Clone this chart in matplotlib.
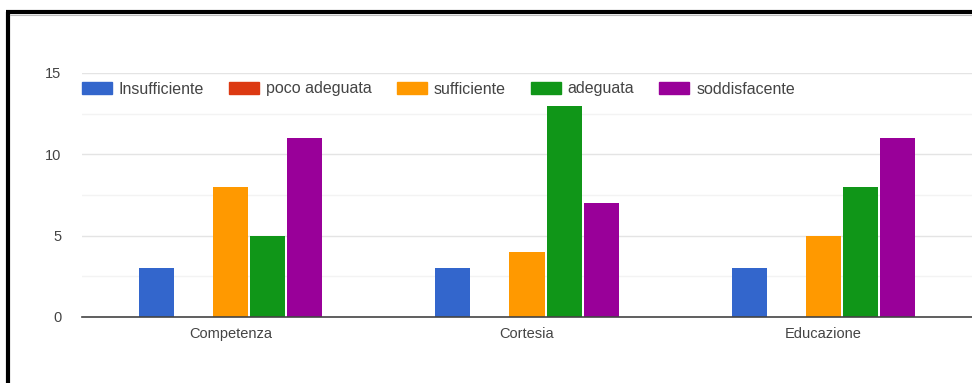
import matplotlib
matplotlib.use("Agg")
import matplotlib.pyplot as plt
import matplotlib.patches as mpatches
from matplotlib.lines import Line2D
import numpy as np

categories = ["Competenza", "Cortesia", "Educazione"]
series_names = ["Insufficiente", "poco adeguata", "sufficiente", "adeguata", "soddisfacente"]
insufficiente = [3, 3, 3]
poco_adeguata = [0, 0, 0]
sufficiente = [8, 4, 5]
adeguata = [5, 13, 8]
soddisfacente = [11, 7, 11]
y_ticks = [0, 5, 10, 15]

series_values = [insufficiente, poco_adeguata, sufficiente, adeguata, soddisfacente]
colors = ["#3366CC", "#DC3912", "#FF9900", "#109618", "#990099"]

plt.rcParams['font.family'] = ['Liberation Sans', 'DejaVu Sans']

W, H = 972, 383
fig = plt.figure(figsize=(W / 100, H / 100), dpi=100)
ax = fig.add_axes([82 / W, 1 - 317 / H, 1 - 82 / W, (317 - 73) / H])

x = np.arange(len(categories))
slot = 0.125
bw = 0.118
for i, (vals, c) in enumerate(zip(series_values, colors)):
    ax.bar(x + (i - 2) * slot, vals, width=bw, color=c, zorder=3)

ax.set_xlim(-0.5, 2.5)
ax.set_ylim(0, 15)
ax.set_yticks(y_ticks)
ax.set_yticks([2.5, 7.5, 12.5], minor=True)
ax.set_xticks(x)
ax.set_xticklabels(categories)
ax.grid(axis='y', which='major', color='#e4e4e4', linewidth=1, zorder=0)
ax.grid(axis='y', which='minor', color='#f3f3f3', linewidth=1, zorder=0)
for s in ['top', 'right', 'left']:
    ax.spines[s].set_visible(False)
ax.spines['bottom'].set_color('#444444')
ax.spines['bottom'].set_linewidth(1.2)
ax.spines['bottom'].set_zorder(4)
ax.tick_params(axis='both', which='both', length=0, labelsize=10.5, colors='#444444')
ax.tick_params(axis='y', pad=15)
ax.tick_params(axis='x', pad=7)

# legend
handles = [mpatches.Patch(color=c) for c in colors]
leg = fig.legend(handles, series_names, loc='center left',
                 bbox_to_anchor=(67.6 / W, 1 - 89 / H), ncol=5, frameon=False,
                 fontsize=11.5, handlelength=1.875, handleheight=0.75,
                 handletextpad=0.44, columnspacing=1.56, labelcolor='#444444')

# black frame
fig.add_artist(Line2D([8 / W, 8 / W], [0, 1 - 12 / H], color='black', lw=3.0,
                      transform=fig.transFigure, solid_capstyle='butt'))
fig.add_artist(Line2D([6 / W, 1], [1 - 12 / H, 1 - 12 / H], color='black', lw=3.0,
                      transform=fig.transFigure, solid_capstyle='butt'))
fig.add_artist(Line2D([10 / W, 1], [1 - 15 / H, 1 - 15 / H], color='#bbbbbb', lw=0.8,
                      transform=fig.transFigure))

fig.savefig("out.png", dpi=100)
